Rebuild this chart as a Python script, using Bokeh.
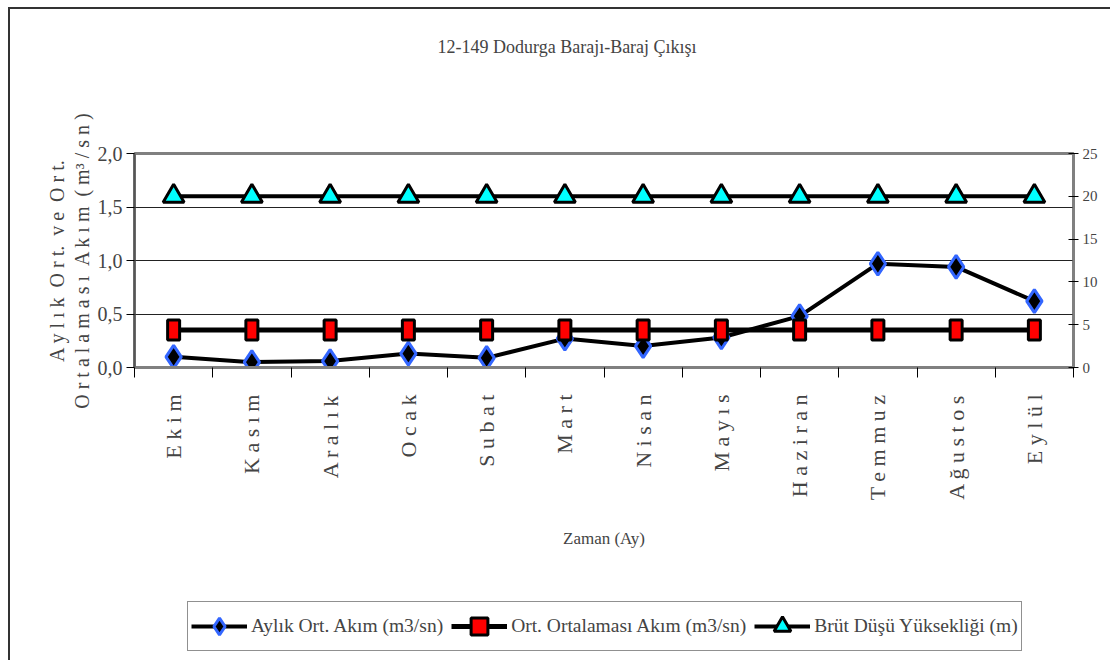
import math
from bokeh.plotting import figure
from bokeh.layouts import column
from bokeh.models import (Range1d, LinearAxis, FixedTicker, Legend, LegendItem,
                          ColumnDataSource, Title)
from bokeh.embed import file_html
from bokeh.resources import INLINE

# ---------------- data ----------------
months = ["Ekim", "Kasım", "Aralık", "Ocak", "Subat", "Mart",
          "Nisan", "Mayıs", "Haziran", "Temmuz", "Ağustos", "Eylül"]
month_labels = ["E k i m", "K a s ı m", "A r a l ı k", "O c a k", "S u b a t", "M a r t",
                "N i s a n", "M a y ı s", "H a z i r a n", "T e m m u z", "A ğ u s t o s", "E y l ü l"]
aylik_ort_akim = [0.10, 0.05, 0.06, 0.13, 0.09, 0.27, 0.20, 0.28, 0.48, 0.97, 0.94, 0.62]
ort_ortalamasi_akim = [0.35, 0.35, 0.35, 0.35, 0.35, 0.35, 0.35, 0.35, 0.35, 0.35, 0.35, 0.35]
brut_dusu = [20, 20, 20, 20, 20, 20, 20, 20, 20, 20, 20, 20]
left_ticks = [0, 0.5, 1, 1.5, 2]
left_tick_labels = ["0,0", "0,5", "1,0", "1,5", "2,0"]
right_ticks = [0, 5, 10, 15, 20, 25]

title_text = "12-149 Dodurga Barajı-Baraj Çıkışı"
x_title = "Zaman (Ay)"
G = " \u00a0"  # word gap
y_title = ("A y l ı k" + G + "O r t." + G + "v e" + G + "O r t.\n"
           "O r t a l a m a s ı" + G + "A k ı m" + G + "( m³ / s n )")
series_names = ["Aylık Ort. Akım (m3/sn)", "Ort. Ortalaması Akım (m3/sn)", "Brüt Düşü Yüksekliği (m)"]

FONT = "Liberation Serif"

xs = list(range(1, len(months) + 1))
src = ColumnDataSource(dict(x=xs, month=months, aylik=aylik_ort_akim,
                            ort=ort_ortalamasi_akim, brut=brut_dusu))

p = figure(width=1100, height=589, output_backend="svg", toolbar_location=None,
           x_range=Range1d(0.5, len(months) + 0.5), y_range=Range1d(0, 2),
           min_border_left=124, min_border_right=37, min_border_top=144,
           min_border_bottom=231, title_location=None)
p.extra_y_ranges = {"right": Range1d(0, 25)}
p.background_fill_color = "white"
p.border_fill_color = "white"
p.outline_line_color = "#808080"
p.outline_line_width = 3

# title (spacer + real title, stacked upward from the frame)
spacer = Title(text="\u00a0", text_font_size="2px", standoff=88)
p.add_layout(spacer, "above")
title = Title(text=title_text, align="left", offset=303, text_font=FONT,
              text_font_size="18px", text_font_style="normal", standoff=10)
p.add_layout(title, "above")

# x axis
xa = p.xaxis[0]
xa.ticker = FixedTicker(ticks=xs, minor_ticks=[i - 0.5 for i in xs] + [xs[-1] + 0.5])
xa.major_label_overrides = {x: lab for x, lab in zip(xs, month_labels)}
xa.major_label_orientation = math.pi / 2
xa.major_label_text_font = FONT
xa.major_label_text_font_size = "22px"
xa.major_label_standoff = 17
xa.major_tick_out = 0
xa.major_tick_in = 0
xa.minor_tick_out = 10
xa.minor_tick_in = 0
xa.minor_tick_line_color = "black"
xa.axis_line_color = "#808080"
xa.axis_line_width = 3
xa.axis_label = x_title
xa.axis_label_text_font = FONT
xa.axis_label_text_font_size = "17px"
xa.axis_label_text_font_style = "normal"
xa.axis_label_standoff = 26

# left y axis
ya = p.yaxis[0]
ya.ticker = FixedTicker(ticks=left_ticks)
ya.major_label_overrides = {t: lab for t, lab in zip(left_ticks, left_tick_labels)}
ya.major_label_text_font = FONT
ya.major_label_text_font_size = "20px"
ya.major_label_standoff = 4
ya.major_tick_out = 8
ya.major_tick_in = 0
ya.minor_tick_line_color = None
ya.axis_line_color = "#555555"
ya.axis_line_width = 2
ya.axis_label = y_title
ya.axis_label_text_font = FONT
ya.axis_label_text_font_size = "20px"
ya.axis_label_text_font_style = "normal"
ya.axis_label_text_line_height = 1.1
ya.axis_label_standoff = 2

# right y axis
ra = LinearAxis(y_range_name="right", ticker=FixedTicker(ticks=right_ticks))
ra.major_label_text_font = FONT
ra.major_label_text_font_size = "15px"
ra.major_tick_in = 5
ra.major_tick_out = 5
ra.major_label_standoff = 4
ra.minor_tick_line_color = None
ra.axis_line_color = "#808080"
ra.axis_line_width = 2
p.add_layout(ra, "right")

p.xgrid.grid_line_color = None
p.ygrid.grid_line_color = "#222222"
p.ygrid.grid_line_width = 1
p.ygrid.ticker = FixedTicker(ticks=left_ticks)


def draw_series(fig, y_extra=None):
    kw = {} if y_extra is None else {"y_range_name": y_extra}
    l1 = fig.line("x", "aylik", source=src, line_color="black", line_width=4)
    m1 = fig.scatter("x", "aylik", source=src, marker="diamond", size=23,
                     fill_color="black", line_color="#3366FF", line_width=3)
    l2 = fig.line("x", "ort", source=src, line_color="black", line_width=5)
    m2 = fig.scatter("x", "ort", source=src, marker="square", size=9,
                     fill_color="red", line_color="black", line_width=3)
    l3 = fig.line("x", "brut", source=src, line_color="black", line_width=4, **kw)
    m3 = fig.scatter("x", "brut", source=src, marker="triangle", size=21,
                     fill_color="cyan", line_color="black", line_width=3, **kw)
    return (l1, m1), (l2, m2), (l3, m3)


draw_series(p, "right")
# tall red rectangles on the average line
p.rect("x", "ort", width=12, height=20, width_units="screen", height_units="screen",
       source=src, fill_color="red", line_color="black", line_width=3)

# ---------------- legend strip (separate figure under the chart) ----------------
lf = figure(width=1100, height=62, output_backend="svg", toolbar_location=None,
            x_range=Range1d(0.5, 12.5), y_range=Range1d(1000, 1001),
            x_axis_type=None, y_axis_type=None, min_border=0,
            min_border_left=0, min_border_right=0, min_border_top=0, min_border_bottom=0)
lf.outline_line_color = None
lf.xgrid.grid_line_color = None
lf.ygrid.grid_line_color = None
r1, r2, r3 = draw_series(lf)

legend = Legend(items=[
    LegendItem(label=series_names[0], renderers=list(r1)),
    LegendItem(label=series_names[1], renderers=list(r2)),
    LegendItem(label=series_names[2], renderers=list(r3)),
], orientation="horizontal", location=(53, 9), margin=0)
legend.label_text_font = FONT
legend.label_text_font_size = "19.5px"
legend.glyph_width = 56
legend.glyph_height = 42
legend.label_standoff = 4
legend.spacing = 8
legend.padding = 3
legend.border_line_color = "#222222"
legend.border_line_width = 1
legend.background_fill_alpha = 1
lf.add_layout(legend, "center")

page = column(p, lf, spacing=0,
              styles={"margin-left": "8px", "margin-top": "7px",
                      "border-top": "2px solid #333", "border-left": "2px solid #333"})

open("out.html", "w").write(file_html(page, INLINE))
